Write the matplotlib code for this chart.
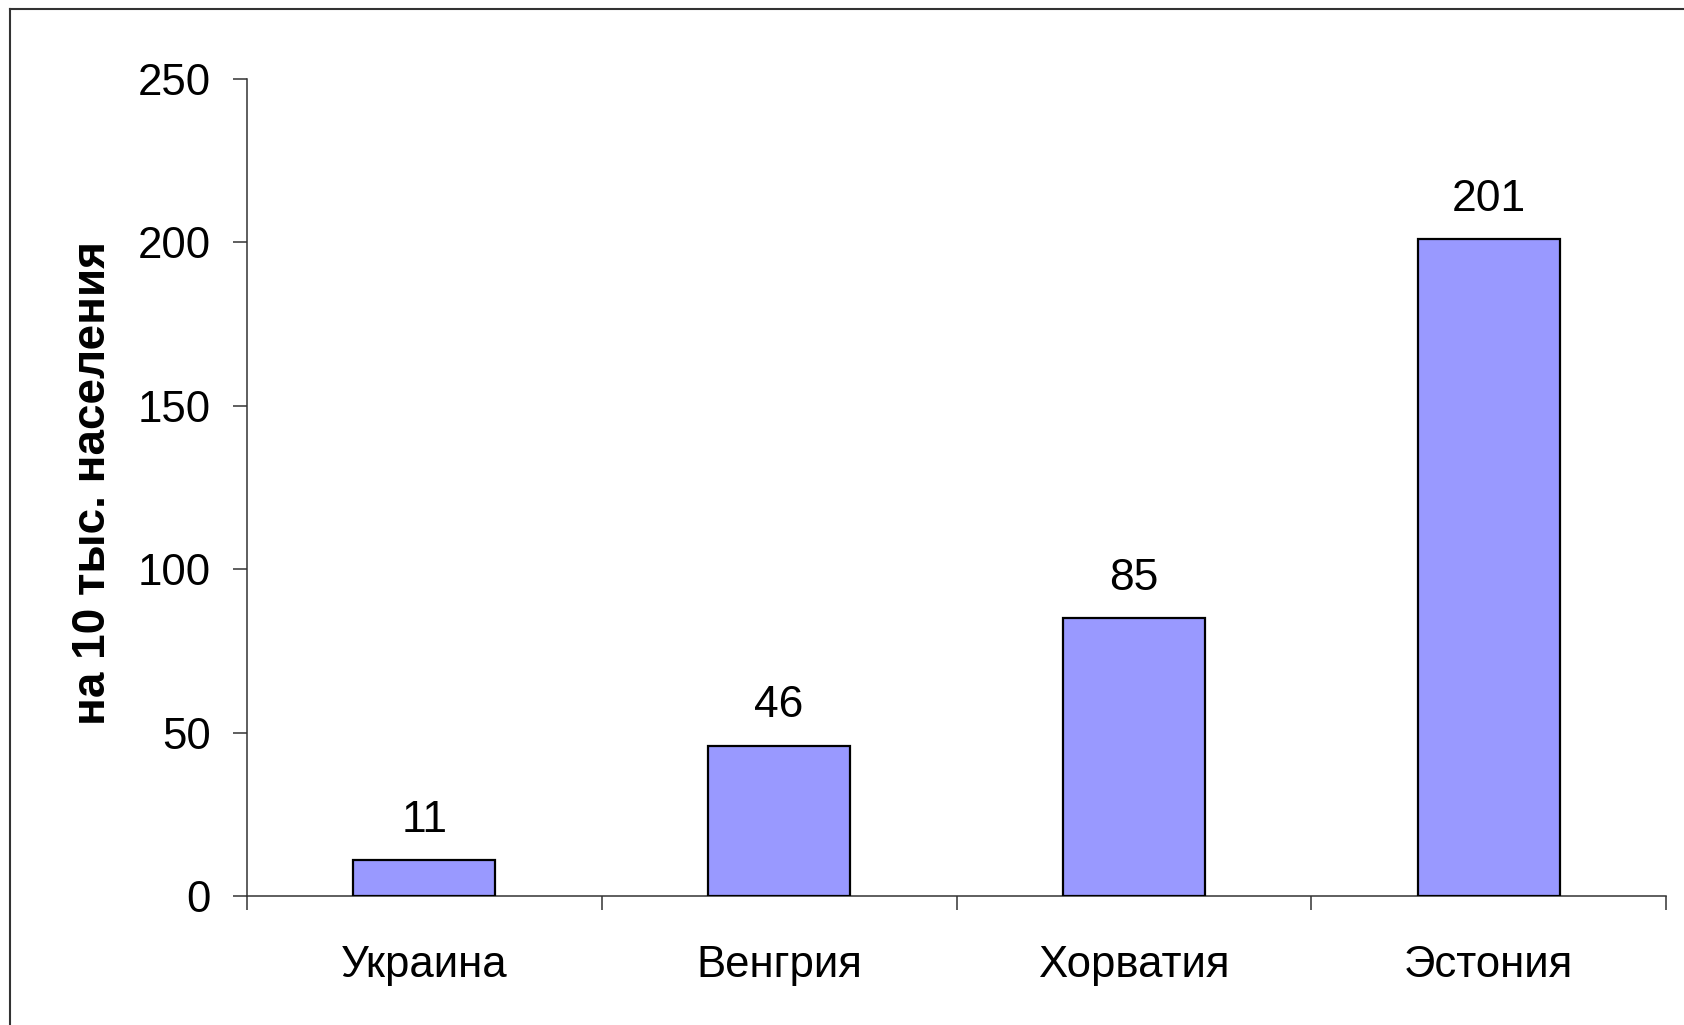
import matplotlib
matplotlib.use("Agg")
from matplotlib import pyplot as plt
from matplotlib.ticker import FixedLocator, NullFormatter

countries = ["Украина", "Венгрия", "Хорватия", "Эстония"]
values = [11, 46, 85, 201]
y_ticks = [0, 50, 100, 150, 200, 250]
y_label = "на 10 тыс. населения"

plt.rcParams["font.family"] = ["Liberation Sans", "DejaVu Sans"]

fig = plt.figure(figsize=(16.84, 10.25), dpi=100)
ax = fig.add_axes([0.1467, 0.1259, 0.8426, 0.797])

xs = list(range(len(countries)))
ax.bar(xs, values, width=0.4, color="#9999ff", edgecolor="black", linewidth=1.6, zorder=3)

for x, v in zip(xs, values):
    ax.annotate(str(v), (x, v), xytext=(0, 14), textcoords="offset points",
                ha="center", va="bottom", fontsize=32)

ax.set_xlim(-0.5, len(countries) - 0.5)
ax.set_ylim(0, 250)
ax.set_yticks(y_ticks)

# category boundaries get tick marks, centres get the names
ax.xaxis.set_major_locator(FixedLocator([i - 0.5 for i in range(len(countries) + 1)]))
ax.xaxis.set_major_formatter(NullFormatter())
ax.set_xticks(xs, minor=True)
ax.set_xticklabels(countries, minor=True)
ax.tick_params(axis="x", which="major", length=10, width=1.1, color="#333333", direction="out")
ax.tick_params(axis="x", which="minor", length=0, pad=35, labelsize=31.5)
ax.tick_params(axis="y", length=10, width=1.1, color="#333333", direction="out", pad=16, labelsize=31.5)

for side in ("top", "right"):
    ax.spines[side].set_visible(False)
for side in ("left", "bottom"):
    ax.spines[side].set_color("#333333")
    ax.spines[side].set_linewidth(1.1)

ax.set_ylabel(y_label, fontsize=33, fontweight="bold")
ax.yaxis.set_label_coords(-0.093, 0.505)

# outer frame, only the top and left edges fall inside the canvas
fig.add_artist(plt.Line2D([10 / 1684, 10 / 1684], [0, 1 - 9 / 1025], color="#333333", linewidth=1.5))
fig.add_artist(plt.Line2D([10 / 1684, 1], [1 - 9 / 1025, 1 - 9 / 1025], color="#333333", linewidth=1.5))

fig.savefig("out.png", dpi=100)
